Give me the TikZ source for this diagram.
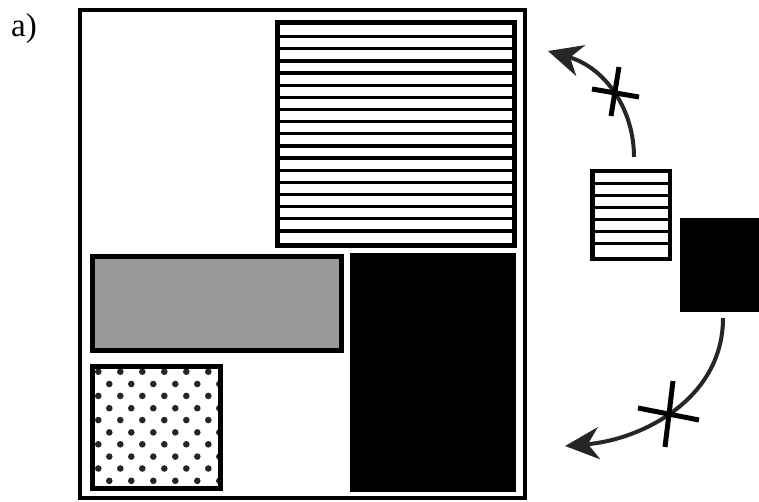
\documentclass[tikz,border=0pt]{standalone}
\usepackage{fontspec}
\setmainfont{Liberation Serif}
\usetikzlibrary{arrows.meta}
\tikzset{
  frame/.style={draw=black,line width=4pt},
  boxline/.style={draw=black,line width=5pt},
  stripe/.style={draw=black,line width=3.3pt},
  arc/.style={draw=black!85,line width=4pt,-{Stealth[length=34pt,width=32pt,inset=11pt]}},
  bar/.style={draw=black,line width=5pt},
  dot/.style={fill=black!85},
}
\begin{document}
\begin{tikzpicture}[x=1pt,y=-1pt]
\useasboundingbox (0,0) rectangle (759,502);
% label
\node[inner sep=0pt] (lab) at (24,29) {\fontsize{33}{38}\selectfont a)};
% outer frame
\draw[frame] (80,10) rectangle (525,498);
% big striped rect
\foreach \i in {0,...,16} {\draw[stripe] (278,36.7+12.14*\i) -- (514,36.7+12.14*\i);}
\draw[boxline] (277.5,23) rectangle (514,246);
% gray rect
\draw[boxline,fill=black!40] (92.5,257) rectangle (341.5,350);
% dotted rect
\begin{scope}
\clip (92.5,366) rectangle (220,488);
\foreach \r in {0,...,4} {
  \foreach \c in {0,...,5} {
    \fill[dot] (98.3+22*\c,371.7+24.2*\r) circle (3.3);
    \fill[dot] (109.3+22*\c,384+24.2*\r) circle (3.3);
  }
}
\end{scope}
\draw[boxline] (92.5,366) rectangle (220,488);
% black tall rect
\fill[black] (350,253) rectangle (516,492);
% small striped square
\foreach \i in {0,...,5} {\draw[stripe] (594,183.3+12*\i) -- (669,183.3+12*\i);}
\draw[line width=4.5pt,draw=black] (592.5,171) rectangle (670,259);
% small black square
\fill[black] (679.5,218.5) rectangle (759,311.5);
% arrows
\coordinate (ua) at (634,157);
\coordinate (ub) at (548,51);
\draw[arc] (ua) .. controls (634,110) and (606,68) .. (ub);
\draw[bar] (592,89) -- (639,97);
\draw[bar] (619,67) -- (611,116);
\coordinate (la) at (723,318);
\coordinate (lb) at (565,446);
\draw[arc] (la) .. controls (723,400) and (640,440) .. (lb);
\draw[bar] (638,408) -- (699,420);
\draw[bar] (673,381) -- (665,447);
\end{tikzpicture}
\end{document}
